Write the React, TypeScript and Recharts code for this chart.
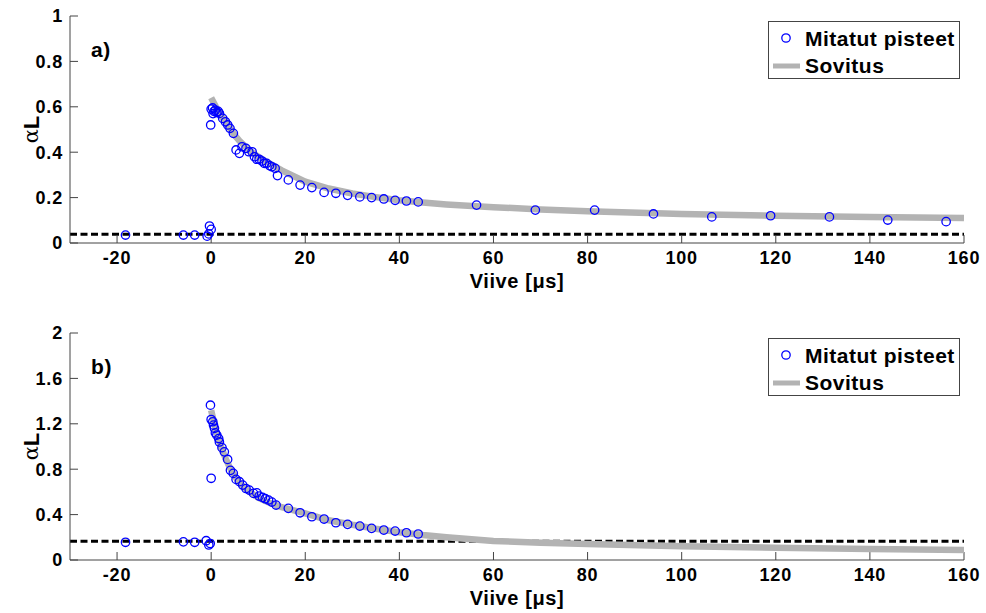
import React from "react";
import { ScatterChart, Scatter, XAxis, YAxis, ReferenceLine, Legend } from "recharts";

const FONT = '"Liberation Sans", Arial, Helvetica, sans-serif';
const AXIS = "#444";

// shared x axis
const xTicks = [-20, 0, 20, 40, 60, 80, 100, 120, 140, 160];

// a) measured points
const measAx = [-18.2, -5.9, -3.5, -0.85, -0.5, -0.35, 0.0, -0.1, 0.0, 0.3, 0.6, 0.9, 1.2, 1.5, 0.4, 1.76, 2.46, 3.03, 3.52, 4.0, 4.72, 5.3, 6.0, 6.56, 7.4, 8.0, 8.7, 9.2, 9.7, 10.2, 10.8, 11.3, 11.8, 12.4, 12.9, 13.6, 14.1, 16.4, 18.9, 21.4, 24.0, 26.5, 29.0, 31.6, 34.1, 36.7, 39.1, 41.5, 44.0, 56.4, 68.9, 81.5, 94.0, 106.4, 118.9, 131.4, 143.8, 156.2];
const measAy = [0.035, 0.035, 0.035, 0.03, 0.04, 0.075, 0.06, 0.52, 0.59, 0.595, 0.58, 0.585, 0.575, 0.58, 0.57, 0.571, 0.549, 0.534, 0.52, 0.505, 0.483, 0.41, 0.395, 0.424, 0.417, 0.402, 0.402, 0.38, 0.369, 0.369, 0.361, 0.351, 0.351, 0.341, 0.336, 0.329, 0.297, 0.278, 0.255, 0.244, 0.223, 0.219, 0.21, 0.203, 0.2, 0.194, 0.188, 0.185, 0.181, 0.167, 0.145, 0.145, 0.128, 0.115, 0.12, 0.115, 0.101, 0.094];

// a) fit
const fitX = [0, 1, 2, 3, 4, 5, 6, 8, 10, 12, 15, 20, 25, 30, 35, 40, 45, 50, 60, 70, 80, 100, 120, 140, 160];
const fitAy = [0.64, 0.6, 0.565, 0.535, 0.505, 0.475, 0.45, 0.41, 0.38, 0.355, 0.32, 0.27, 0.24, 0.218, 0.202, 0.188, 0.178, 0.17, 0.158, 0.148, 0.14, 0.128, 0.12, 0.115, 0.11];
const baseA = 0.038;
const yTicksA = [0, 0.2, 0.4, 0.6, 0.8, 1];

// b) measured points
const measBx = [-18.2, -5.9, -3.5, -1.06, -0.5, -0.2, -0.15, 0.0, 0.0, 0.35, 0.5, 0.7, 0.9, 1.2, 1.6, 1.75, 2.3, 2.8, 3.5, 4.1, 4.7, 5.3, 6.0, 6.7, 7.4, 8.1, 9.0, 9.7, 10.2, 10.9, 11.5, 12.2, 12.9, 13.8, 16.4, 18.9, 21.4, 24.0, 26.5, 29.0, 31.6, 34.1, 36.7, 39.1, 41.5, 44.0];
const measBy = [0.156, 0.16, 0.156, 0.17, 0.132, 0.145, 1.364, 0.72, 1.238, 1.218, 1.188, 1.16, 1.12, 1.1, 1.07, 1.04, 0.99, 0.953, 0.886, 0.79, 0.763, 0.71, 0.69, 0.66, 0.63, 0.616, 0.587, 0.592, 0.563, 0.552, 0.54, 0.528, 0.51, 0.484, 0.455, 0.416, 0.381, 0.361, 0.328, 0.314, 0.299, 0.279, 0.264, 0.255, 0.24, 0.229];

// b) fit
const fitBy = [1.32, 1.14, 1.01, 0.9, 0.81, 0.74, 0.68, 0.605, 0.55, 0.51, 0.465, 0.41, 0.35, 0.31, 0.275, 0.245, 0.22, 0.2, 0.168, 0.152, 0.14, 0.122, 0.108, 0.097, 0.088];
const baseB = 0.165;
const yTicksB = [0, 0.4, 0.8, 1.2, 1.6, 2];

const pairs = (xs: number[], ys: number[]) => xs.map((x, i) => ({ x, y: ys[i] }));

const Ring = (p: any) => (
  <circle cx={p.cx} cy={p.cy} r={4.2} fill="none" stroke="#0000ff" strokeWidth={1.3} />
);

const tickStyle = { fill: "#000", fontSize: 18, fontWeight: 700, fontFamily: FONT, letterSpacing: 0.8 };

const AlphaL = ({ cx, cy }: { cx: number; cy: number }) => (
  <text x={cx} y={cy} transform={`rotate(-90, ${cx}, ${cy})`} textAnchor="middle" dominantBaseline="central" fill="#000">
    <tspan fontFamily='"DejaVu Serif", serif' fontSize={21}>α</tspan>
    <tspan fontFamily={FONT} fontWeight={700} fontSize={22}>L</tspan>
  </text>
);

const LegendBox = () => (
  <div style={{ width: 192, height: 58, boxSizing: "border-box", border: `1px solid ${AXIS}`, background: "#fff" }}>
    <svg width={190} height={56} style={{ display: "block" }}>
      <circle cx={17} cy={16} r={4.2} fill="none" stroke="#0000ff" strokeWidth={1.3} />
      <line x1={4} x2={31} y1={44} y2={44} stroke="#b3b3b3" strokeWidth={5} />
      <text x={36} y={24} fontFamily={FONT} fontWeight={700} fontSize={21} letterSpacing={0.5} fill="#000">Mitatut pisteet</text>
      <text x={36} y={51} fontFamily={FONT} fontWeight={700} fontSize={21} letterSpacing={0.5} fill="#000">Sovitus</text>
    </svg>
  </div>
);

interface PanelProps {
  tag: string;
  top: number;
  height: number;
  marginTop: number;
  marginBottom: number;
  points: { x: number; y: number }[];
  fit: { x: number; y: number }[];
  base: number;
  yTicks: number[];
  yMax: number;
}

const Panel = ({ tag, top, height, marginTop, marginBottom, points, fit, base, yTicks, yMax }: PanelProps) => {
  const plotH = height - marginTop - marginBottom - 50;
  return (
    <div style={{ position: "absolute", left: 0, top, width: 986, height }}>
      <ScatterChart width={986} height={height} margin={{ top: marginTop, right: 22, bottom: marginBottom, left: 10 }}>
        <XAxis
          dataKey="x"
          type="number"
          domain={[-30, 160]}
          allowDataOverflow
          ticks={xTicks}
          height={50}
          tick={tickStyle}
          tickSize={-8}
          tickMargin={16}
          stroke={AXIS}
          label={{ value: "Viive [μs]", position: "insideBottom", offset: 5, fill: "#000", fontSize: 20, fontWeight: 700, fontFamily: FONT, letterSpacing: 0.6 }}
        />
        <XAxis xAxisId="top" orientation="top" type="number" domain={[-30, 160]} allowDataOverflow ticks={xTicks} height={0} tick={false} tickSize={-8} stroke={AXIS} />
        <YAxis
          dataKey="y"
          type="number"
          domain={[0, yMax]}
          allowDataOverflow
          ticks={yTicks}
          width={60}
          tick={tickStyle}
          tickSize={-8}
          tickMargin={15}
          stroke={AXIS}
          tickFormatter={(v: number) => String(v)}
          label={<AlphaL cx={31} cy={marginTop + plotH / 2} />}
        />
        <YAxis yAxisId="right" orientation="right" type="number" domain={[0, yMax]} allowDataOverflow ticks={yTicks} width={0} tick={false} tickSize={-8} stroke={AXIS} />
        <Legend layout="horizontal" align="center" verticalAlign="middle" wrapperStyle={{ top: marginTop + 5, left: 768, width: 192, height: 58 }} content={<LegendBox />} />
        <Scatter
          name="Sovitus"
          data={fit}
          line={{ stroke: "#b3b3b3", strokeWidth: 6.5 }}
          lineType="joint"
          shape={() => <g />}
          isAnimationActive={false}
        />
        <ReferenceLine y={base} stroke="#000" strokeWidth={3} strokeDasharray="7 3.5" />
        <Scatter name="Mitatut pisteet" data={points} shape={<Ring />} isAnimationActive={false} />
      </ScatterChart>
      <div style={{ position: "absolute", left: 91, top: marginTop + 23, fontFamily: FONT, fontWeight: 700, fontSize: 21, lineHeight: "21px", letterSpacing: 0.6 }}>
        {tag}
      </div>
    </div>
  );
};

export default function App() {
  return (
    <div style={{ position: "absolute", left: 0, top: 0, width: 986, height: 613, background: "#fff", overflow: "hidden" }}>
      <Panel tag="a)" top={0} height={306} marginTop={16} marginBottom={13} points={pairs(measAx, measAy)} fit={pairs(fitX, fitAy)} base={baseA} yTicks={yTicksA} yMax={1} />
      <Panel tag="b)" top={306} height={307} marginTop={27} marginBottom={3} points={pairs(measBx, measBy)} fit={pairs(fitX, fitBy)} base={baseB} yTicks={yTicksB} yMax={2} />
    </div>
  );
}
